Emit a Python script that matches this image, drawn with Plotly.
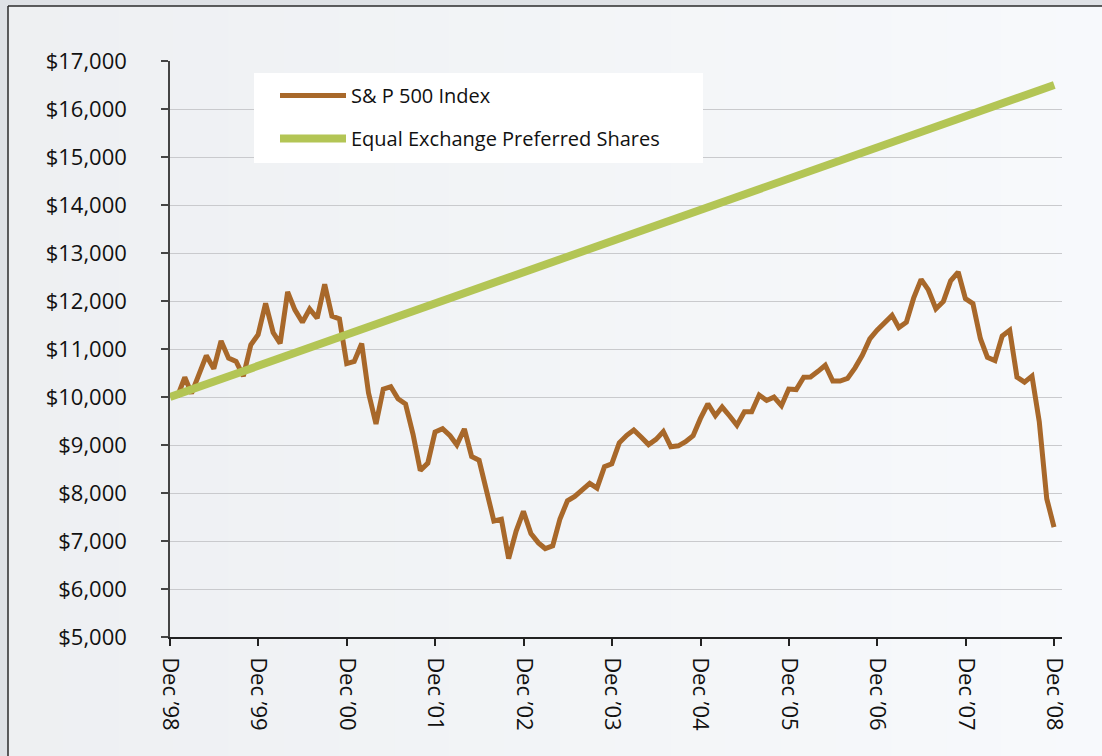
import plotly.graph_objects as go
import pandas as pd

# ---------------- data ----------------
sp_dates_start = "1998-12-31"
sp_values = [
    10000,
    10410, 10074, 10465, 10862, 10591, 11167, 10809, 10742, 10435, 11088, 11299, 11953,
    11344, 11116, 12191, 11816, 11557, 11833, 11640, 12347, 11686, 11628, 10697, 10741,
    11113, 10087, 9439, 10165, 10216, 9961, 9854, 9222, 8468, 8622, 9270, 9340,
    9194, 9003, 9334, 8761, 8681, 8052, 7416, 7452, 6632, 7206, 7617, 7157,
    6961, 6843, 6900, 7459, 7839, 7928, 8056, 8200, 8102, 8548, 8609, 9046,
    9202, 9314, 9162, 9008, 9117, 9281, 8963, 8983, 9067, 9194, 9549, 9859,
    9610, 9791, 9604, 9411, 9693, 9692, 10040, 9928, 9997, 9819, 10165, 10155,
    10414, 10418, 10534, 10662, 10332, 10333, 10386, 10607, 10867, 11210, 11394, 11538,
    11700, 11445, 11559, 12059, 12452, 12230, 11839, 11991, 12420, 12604, 12049, 11945,
    11215, 10825, 10760, 11272, 11392, 10413, 10310, 10436, 9489, 7881, 7291,
]
ee_dates = ["1998-12-01", "2008-12-01"]
ee_values = [10000, 16500]

tick_dates = ["%d-12-01" % y for y in range(1998, 2009)]
tick_labels = ["Dec \u2019%02d" % (y % 100) for y in range(1998, 2009)]

sp_dates = pd.date_range(sp_dates_start, periods=len(sp_values), freq="ME")

BROWN = "#a8682a"
GREEN = "#b3c555"
FONT = "Open Sans"

W, H = 1102, 756
L, R, T, B = 170, 40, 61, 119
PW, PH = W - L - R, H - T - B


def px_x(p):
    return (p - L) / PW


def px_y(p):
    return (H - B - p) / PH


fig = go.Figure()
fig.add_trace(go.Scatter(
    x=sp_dates, y=sp_values, mode="lines", name="S& P 500 Index",
    line=dict(color=BROWN, width=5), legendgroup="a",
))
fig.add_trace(go.Scatter(
    x=ee_dates, y=ee_values, mode="lines", name="Equal Exchange Preferred Shares",
    line=dict(color=GREEN, width=8), legendgroup="b",
))

shapes = []
# inner panel with soft horizontal gradient
n = 20
c0 = (238, 240, 242)
c1 = (247, 249, 252)
x_start, x_end = 8, W + 10
for i in range(n):
    t = i / (n - 1)
    col = "rgb(%d,%d,%d)" % tuple(round(a + (b - a) * t) for a, b in zip(c0, c1))
    xa = x_start + (x_end - x_start) * i / n
    xb = x_start + (x_end - x_start) * (i + 1) / n + 1
    shapes.append(dict(type="rect", xref="paper", yref="paper",
                       x0=px_x(xa), x1=px_x(xb), y0=px_y(H + 10), y1=px_y(6),
                       fillcolor=col, line=dict(width=0), layer="below"))
shapes.append(dict(type="line", xref="paper", yref="paper",
                   x0=px_x(8), x1=px_x(W + 10), y0=px_y(6), y1=px_y(6),
                   line=dict(color="#2b2b2b", width=1.5), layer="below"))
shapes.append(dict(type="line", xref="paper", yref="paper",
                   x0=px_x(8), x1=px_x(8), y0=px_y(6), y1=px_y(H + 10),
                   line=dict(color="#2b2b2b", width=1.5), layer="below"))
# legend box
shapes.append(dict(type="rect", xref="paper", yref="paper",
                   x0=px_x(254), x1=px_x(703), y0=px_y(163), y1=px_y(73),
                   fillcolor="white", line=dict(width=0), layer="above"))

fig.update_layout(
    width=W, height=H,
    margin=dict(l=L, r=R, t=T, b=B, pad=0),
    paper_bgcolor="#dfe2e6",
    plot_bgcolor="rgba(0,0,0,0)",
    font=dict(family=FONT, size=22, color="#111111"),
    shapes=shapes,
    showlegend=True,
    legend=dict(
        x=px_x(275), y=px_y(76), xanchor="left", yanchor="top",
        bgcolor="rgba(0,0,0,0)", borderwidth=0,
        font=dict(family=FONT, size=20, color="#111111"),
        itemwidth=66, tracegroupgap=14, traceorder="grouped",
    ),
    xaxis=dict(
        type="date", range=["1998-12-01", "2009-01-02"],
        tickmode="array", tickvals=tick_dates, ticktext=tick_labels,
        tickangle=90, ticks="outside", ticklen=7, tickwidth=1.5, tickcolor="#222",
        showline=True, linecolor="#222", linewidth=1.5,
        showgrid=False, zeroline=False, ticklabelstandoff=7,
        tickfont=dict(family=FONT, size=22),
    ),
    yaxis=dict(
        range=[5000, 17000], dtick=1000, tick0=5000, tickformat="$,.0f",
        ticks="outside", ticklen=7, tickwidth=1.5, tickcolor="#444",
        showline=True, linecolor="#444", linewidth=1.5,
        showgrid=True, gridcolor="#c9cacd", gridwidth=1, zeroline=False,
        ticklabelstandoff=30, tickfont=dict(family=FONT, size=22),
    ),
)

fig.write_html("out.html")
